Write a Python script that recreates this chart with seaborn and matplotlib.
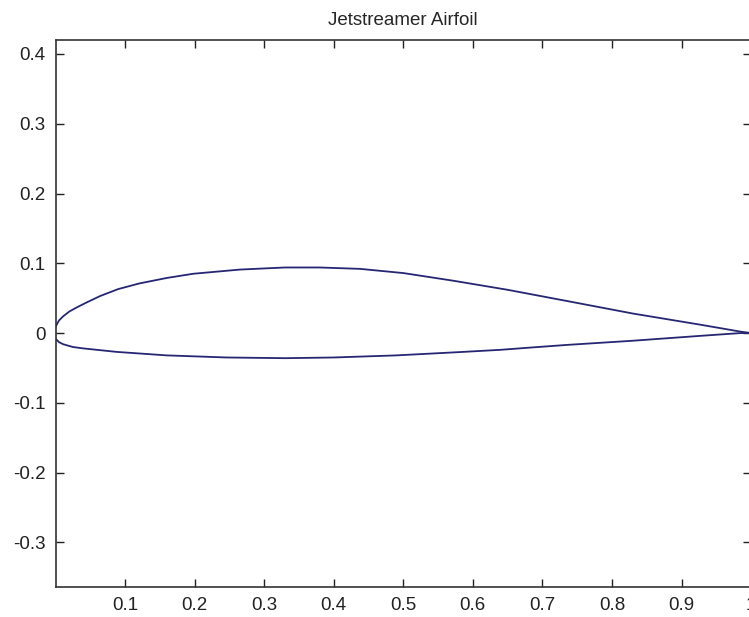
import pandas as pd
import seaborn as sns
import matplotlib.pyplot as plt

# =========================
# DATA
# =========================

upper_x = [-0.003, 0.0, 0.005, 0.011, 0.02, 0.031, 0.045, 0.064, 0.09, 0.12, 0.16, 0.198, 0.265,
           0.33, 0.38, 0.438, 0.50, 0.572, 0.65, 0.735, 0.83, 0.927, 0.985, 1.0]
upper_y = [0.0, 0.009, 0.018, 0.024, 0.031, 0.037, 0.044, 0.053, 0.063, 0.071, 0.079, 0.085, 0.091,
           0.094, 0.094, 0.092, 0.086, 0.075, 0.062, 0.046, 0.028, 0.012, 0.002, 0.0]

lower_x = [-0.003, 0.0, 0.005, 0.011, 0.025, 0.04, 0.088, 0.16, 0.246, 0.33, 0.40, 0.49, 0.586,
           0.64, 0.68, 0.735, 0.83, 0.927, 0.985, 1.0]
lower_y = [0.0, -0.008, -0.013, -0.016, -0.020, -0.022, -0.027, -0.032, -0.035, -0.036, -0.035,
           -0.032, -0.027, -0.024, -0.021, -0.017, -0.011, -0.004, 0.0, 0.0]

x_ticks = [0.1, 0.2, 0.3, 0.4, 0.5, 0.6, 0.7, 0.8, 0.9, 1.0]
x_labels = ["0.1", "0.2", "0.3", "0.4", "0.5", "0.6", "0.7", "0.8", "0.9", "1"]
y_ticks = [-0.3, -0.2, -0.1, 0.0, 0.1, 0.2, 0.3, 0.4]
y_labels = ["-0.3", "-0.2", "-0.1", "0", "0.1", "0.2", "0.3", "0.4"]

upper = pd.DataFrame({"x": upper_x, "y": upper_y})
lower = pd.DataFrame({"x": lower_x, "y": lower_y})

# =========================
# PLOT
# =========================

sns.set_style("ticks")
plt.rcParams["font.family"] = ["Liberation Sans", "DejaVu Sans"]

fig = plt.figure(figsize=(7.49, 6.17), dpi=100)
ax = fig.add_axes([0.0741, 0.0486, 0.9287, 0.8865])

line_color = "#262673"
sns.lineplot(data=upper, x="x", y="y", sort=False, estimator=None,
             color=line_color, linewidth=1.3, ax=ax)
sns.lineplot(data=lower, x="x", y="y", sort=False, estimator=None,
             color=line_color, linewidth=1.3, ax=ax)

ax.set_xlim(0, 1)
ax.set_ylim(-0.364, 0.42)
ax.set_xticks(x_ticks)
ax.set_xticklabels(x_labels)
ax.set_yticks(y_ticks)
ax.set_yticklabels(y_labels)
ax.set_xlabel("")
ax.set_ylabel("")
ax.tick_params(direction="in", length=6, width=1, top=True, right=True,
               labelsize=13.5, colors="#222222", pad=7)
for s in ax.spines.values():
    s.set_visible(True)
    s.set_linewidth(1.2)
    s.set_color("#333333")
ax.set_title("Jetstreamer Airfoil", fontsize=13.5, pad=11)

fig.savefig("out.png", dpi=100)
